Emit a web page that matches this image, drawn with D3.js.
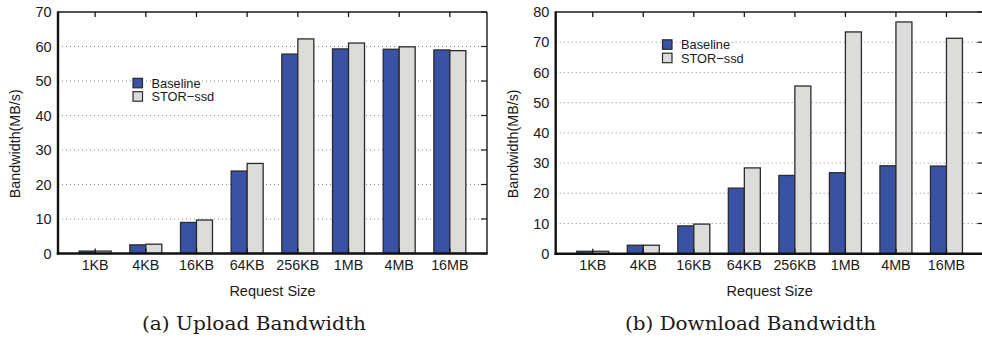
<!DOCTYPE html>
<html>
<head>
<meta charset="utf-8">
<script src="https://cdn.jsdelivr.net/npm/d3@7"></script>
<style>
  html, body { margin: 0; padding: 0; background: #fff; }
  svg { display: block; }
  text { font-family: "Liberation Sans", Arial, Helvetica, sans-serif; fill: #1a1a1a; }
  .caption { font-family: "DejaVu Serif", "Liberation Serif", serif; }
</style>
</head>
<body>
<svg id="chart" width="982" height="339"></svg>
<script>
// Request sizes on the x axis
const categories = ["1KB", "4KB", "16KB", "64KB", "256KB", "1MB", "4MB", "16MB"];
const seriesNames = ["Baseline", "STOR\u2212ssd"];

// Upload bandwidth (MB/s)
const uploadBaseline = [0.7, 2.5, 9.0, 23.9, 57.8, 59.3, 59.2, 59.0];
const uploadStor     = [0.7, 2.7, 9.7, 26.1, 62.2, 61.0, 59.9, 58.8];

// Download bandwidth (MB/s)
const downloadBaseline = [0.8, 2.8, 9.2, 21.7, 25.9, 26.8, 29.1, 29.0];
const downloadStor     = [0.8, 2.8, 9.8, 28.4, 55.5, 73.4, 76.7, 71.3];

const uploadTicks   = [0, 10, 20, 30, 40, 50, 60, 70];
const downloadTicks = [0, 10, 20, 30, 40, 50, 60, 70, 80];

const colors = { "Baseline": "#3a52a3", "STOR\u2212ssd": "#dcdcdb" };

const svg = d3.select("#chart");

function drawPanel(cfg) {
  const { left, right, top, bottom, ticks, base, stor, legend, caption } = cfg;
  const g = svg.append("g");

  const x = d3.scalePoint().domain(categories).range([left, right]).padding(0.733);
  const sub = d3.scaleBand().domain(seriesNames).range([-16, 16]);
  const y = d3.scaleLinear().domain([0, d3.max(ticks)]).range([bottom, top]);

  // dotted horizontal grid
  g.selectAll("line.grid").data(ticks.slice(1, -1)).join("line")
    .attr("class", "grid")
    .attr("x1", left).attr("x2", right)
    .attr("y1", d => y(d)).attr("y2", d => y(d))
    .attr("stroke", "#8a8a8a").attr("stroke-width", 1)
    .attr("stroke-dasharray", "1,3");

  // bars
  const rows = categories.map((c, i) => ({ c, vals: [base[i], stor[i]] }));
  g.selectAll("g.cat").data(rows).join("g")
    .attr("class", "cat")
    .selectAll("rect").data(d => d.vals.map((v, j) => ({ c: d.c, s: seriesNames[j], v })))
    .join("rect")
    .attr("x", d => x(d.c) + sub(d.s))
    .attr("y", d => y(d.v))
    .attr("width", sub.bandwidth())
    .attr("height", d => y(0) - y(d.v))
    .attr("fill", d => colors[d.s])
    .attr("stroke", "#2b2b2b").attr("stroke-width", 1.3);

  // inward category ticks (top and bottom)
  g.selectAll("line.ttick").data(categories).join("line")
    .attr("x1", d => x(d)).attr("x2", d => x(d))
    .attr("y1", top).attr("y2", top + 5)
    .attr("stroke", "#1a1a1a").attr("stroke-width", 1.3);
  g.selectAll("line.btick").data(categories).join("line")
    .attr("x1", d => x(d)).attr("x2", d => x(d))
    .attr("y1", bottom).attr("y2", bottom - 5)
    .attr("stroke", "#1a1a1a").attr("stroke-width", 1.3);

  // mirrored value ticks on the right edge
  g.selectAll("line.rtick").data(ticks).join("line")
    .attr("x1", right).attr("x2", right - 6)
    .attr("y1", d => y(d)).attr("y2", d => y(d))
    .attr("stroke", "#1a1a1a").attr("stroke-width", 1.2);

  // frame
  g.append("line").attr("x1", left).attr("x2", right).attr("y1", top).attr("y2", top)
    .attr("stroke", "#1a1a1a").attr("stroke-width", 1.4);
  g.append("line").attr("x1", right).attr("x2", right).attr("y1", top).attr("y2", bottom)
    .attr("stroke", "#1a1a1a").attr("stroke-width", 1.4);
  g.append("line").attr("x1", left).attr("x2", left).attr("y1", top - 0.7).attr("y2", bottom + 1.2)
    .attr("stroke", "#111").attr("stroke-width", 2.4);
  g.append("line").attr("x1", left - 1.2).attr("x2", right + 0.7).attr("y1", bottom).attr("y2", bottom)
    .attr("stroke", "#111").attr("stroke-width", 2.4);

  // y tick labels
  g.selectAll("text.ylab").data(ticks).join("text")
    .attr("x", left - 6.3).attr("y", d => y(d)).attr("dy", "0.36em")
    .attr("text-anchor", "end").style("font-size", "14.5px")
    .text(d => d);

  // x tick labels
  g.selectAll("text.xlab").data(categories).join("text")
    .attr("x", d => x(d)).attr("y", 269.5)
    .attr("text-anchor", "middle").style("font-size", "14.3px")
    .text(d => d);

  // axis titles
  g.append("text")
    .attr("transform", `translate(${left - 38},${(top + bottom) / 2 + 11}) rotate(-90)`)
    .attr("text-anchor", "middle").style("font-size", "14.3px")
    .text("Bandwidth(MB/s)");
  g.append("text")
    .attr("x", (left + right) / 2).attr("y", 295.5)
    .attr("text-anchor", "middle").style("font-size", "14.5px")
    .text("Request Size");

  // legend
  const lg = g.append("g").attr("transform", `translate(${legend[0]},${legend[1]})`);
  seriesNames.forEach((s, i) => {
    lg.append("rect").attr("x", 0).attr("y", i * 13.4).attr("width", 9.5).attr("height", 9.5)
      .attr("fill", colors[s]).attr("stroke", "#2b2b2b").attr("stroke-width", 1.2);
    lg.append("text").attr("x", 18.5).attr("y", i * 13.4 + 4.8).attr("dy", "0.36em")
      .style("font-size", "12.8px").text(s);
  });

  // caption
  svg.append("text").attr("class", "caption")
    .attr("x", caption.x).attr("y", 330)
    .attr("text-anchor", "middle").style("font-size", "18px")
    .attr("textLength", caption.w).attr("lengthAdjust", "spacingAndGlyphs")
    .text(caption.text);
}

drawPanel({
  left: 58, right: 487, top: 12, bottom: 253.5,
  ticks: uploadTicks, base: uploadBaseline, stor: uploadStor,
  legend: [133, 78.3],
  caption: { x: 254, w: 224, text: "(a) Upload Bandwidth" }
});

drawPanel({
  left: 555.7, right: 983.5, top: 12, bottom: 253.7,
  ticks: downloadTicks, base: downloadBaseline, stor: downloadStor,
  legend: [662.5, 39.8],
  caption: { x: 750.5, w: 251, text: "(b) Download Bandwidth" }
});
</script>
</body>
</html>
